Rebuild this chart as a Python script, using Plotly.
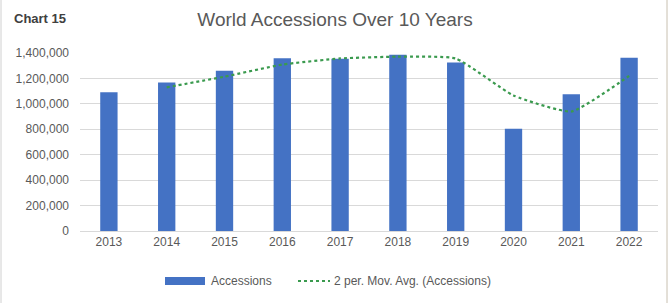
import plotly.graph_objects as go

years = ["2013", "2014", "2015", "2016", "2017", "2018", "2019", "2020", "2021", "2022"]
accessions = [1092000, 1168000, 1260000, 1358000, 1355000, 1387000, 1326000, 805000, 1076000, 1363000]
mov_avg_years = ["2014", "2015", "2016", "2017", "2018", "2019", "2020", "2021", "2022"]
mov_avg = [1130000, 1214000, 1309000, 1357000, 1371000, 1357000, 1066000, 940000, 1220000]
y_ticks = [0, 200000, 400000, 600000, 800000, 1000000, 1200000, 1400000]
y_tick_labels = ["0", "200,000", "400,000", "600,000", "800,000", "1,000,000", "1,200,000", "1,400,000"]

FONT = "Liberation Sans"
GRAY = "#595959"
BLUE = "#4472C4"
GREEN = "#3A9A4E"

L, R, T, B = 80, 12, 53, 72
PW, PH = 670 - L - R, 303 - T - B


def px(x):
    return (x - L) / PW


def py(y):
    return (303 - B - y) / PH


fig = go.Figure()
fig.add_trace(go.Bar(
    x=years, y=accessions, name="Accessions",
    marker=dict(color=BLUE, line=dict(width=0)),
))
fig.add_trace(go.Scatter(
    x=mov_avg_years, y=mov_avg, name="2 per. Mov. Avg. (Accessions)",
    mode="lines", line=dict(color=GREEN, width=2.2, dash="dot", shape="spline", smoothing=0.45),
))

fig.update_layout(
    width=670, height=303,
    margin=dict(l=L, r=R, t=T, b=B),
    paper_bgcolor="white", plot_bgcolor="white",
    bargap=0.7,
    font=dict(family=FONT, color=GRAY, size=12),
    title=dict(text="World Accessions Over 10 Years", x=0.5, xanchor="center",
               y=1 - 19/303, yanchor="middle",
               font=dict(family=FONT, size=19, color=GRAY)),
    showlegend=False,
    xaxis=dict(showgrid=False, showline=True, linecolor="#D9D9D9", linewidth=1,
               ticks="", tickfont=dict(family=FONT, size=12, color=GRAY)),
    yaxis=dict(range=[0, 1400000], tickvals=y_ticks, ticktext=y_tick_labels,
               showgrid=True, gridcolor="#D9D9D9", gridwidth=1, zeroline=False,
               showline=False, ticks="", ticklabelstandoff=10,
               tickfont=dict(family=FONT, size=12, color=GRAY)),
    annotations=[
        dict(text="<b>Chart 15</b>", xref="paper", yref="paper",
             x=px(12), y=py(19), xanchor="left", yanchor="middle",
             showarrow=False, font=dict(family=FONT, size=13, color="#404040")),
        dict(text="Accessions", xref="paper", yref="paper",
             x=px(209), y=py(281), xanchor="left", yanchor="middle",
             showarrow=False, font=dict(family=FONT, size=12, color=GRAY)),
        dict(text="2 per. Mov. Avg. (Accessions)", xref="paper", yref="paper",
             x=px(332), y=py(281), xanchor="left", yanchor="middle",
             showarrow=False, font=dict(family=FONT, size=12, color=GRAY)),
    ],
    shapes=[
        dict(type="rect", xref="paper", yref="paper", x0=px(165), x1=px(205), y0=py(285), y1=py(277),
             fillcolor=BLUE, line=dict(width=0)),
        dict(type="line", xref="paper", yref="paper", x0=px(298), x1=px(330), y0=py(281), y1=py(281),
             line=dict(color=GREEN, width=2.2, dash="dot")),
        dict(type="line", xref="paper", yref="paper", x0=px(1), x1=px(1), y0=py(303), y1=py(0),
             line=dict(color="#D0D0D0", width=1)),
        dict(type="line", xref="paper", yref="paper", x0=px(667), x1=px(667), y0=py(303), y1=py(0),
             line=dict(color="#C8C0B0", width=1)),
    ],
)

fig.write_html("out.html", config={"displayModeBar": False},
               post_script="document.body.style.margin='0';document.body.style.overflow='hidden';")
